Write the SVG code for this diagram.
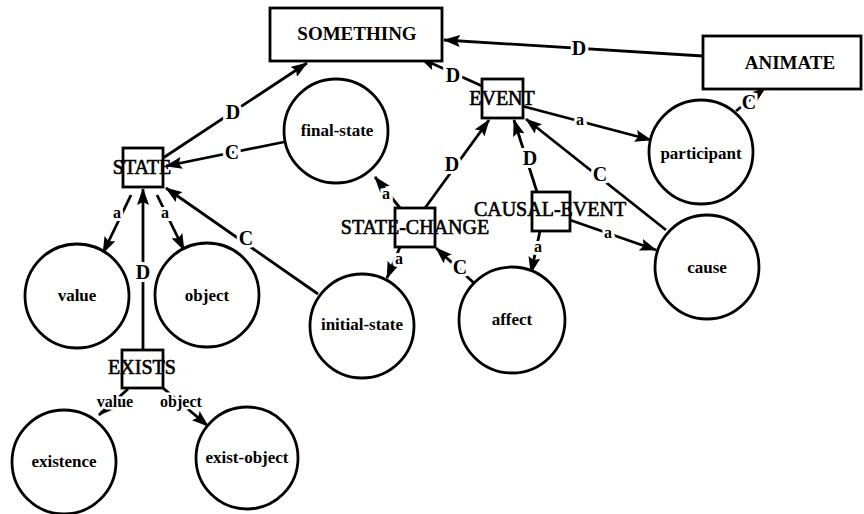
<svg xmlns="http://www.w3.org/2000/svg" width="864" height="514" viewBox="0 0 864 514">
<defs>
<marker id="ah" markerUnits="userSpaceOnUse" markerWidth="17" markerHeight="12" refX="16" refY="6" orient="auto">
<path d="M0,0 L17,6 L0,12 L3,6 z" fill="#000"/>
</marker>
</defs>
<style>
.box{fill:#fff;stroke:#000;stroke-width:2.8}
.circ{fill:#fff;stroke:#000;stroke-width:2.8}
.e{stroke:#000;stroke-width:2.8;fill:none;marker-end:url(#ah)}
text{font-family:"Liberation Serif","Times New Roman",serif;fill:#000;text-anchor:middle;dominant-baseline:central}
.bt{font-size:20px;stroke:#000;stroke-width:0.6}
.bb{font-size:19px;font-weight:bold}
.ct{font-size:17px;font-weight:bold}
.lb{font-size:20px;font-weight:bold;stroke:#fff;stroke-width:6;paint-order:stroke}
.la{font-size:16px;font-weight:bold;stroke:#fff;stroke-width:6;paint-order:stroke}
.lw{font-size:16px;font-weight:bold;stroke:#fff;stroke-width:5;paint-order:stroke}
</style>
<rect width="864" height="514" fill="#fff"/>
<g id="connectors">
<line class="e" x1="163" y1="158" x2="307" y2="63"/>
<line class="e" x1="284" y1="142" x2="166" y2="166"/>
<line class="e" x1="318" y1="294" x2="166" y2="188"/>
<line class="e" x1="131" y1="195" x2="103" y2="253"/>
<line class="e" x1="157" y1="195" x2="184" y2="250"/>
<line class="e" x1="143" y1="350" x2="143" y2="189"/>
<line class="e" x1="128" y1="389" x2="99" y2="415"/>
<line class="e" x1="163" y1="388" x2="208" y2="426"/>
<line class="e" x1="703" y1="56" x2="444" y2="40"/>
<line class="e" x1="736" y1="111" x2="765" y2="88"/>
<line class="e" x1="482" y1="86" x2="420" y2="58"/>
<line class="e" x1="522" y1="106" x2="651" y2="140"/>
<line class="e" x1="425" y1="208" x2="489" y2="120"/>
<line class="e" x1="537" y1="192" x2="514" y2="120"/>
<line class="e" x1="666" y1="230" x2="526" y2="119"/>
<line class="e" x1="570" y1="220" x2="656" y2="250"/>
<line class="e" x1="400" y1="208" x2="375" y2="177"/>
<line class="e" x1="400" y1="247" x2="387" y2="278"/>
<line class="e" x1="475" y1="284" x2="436" y2="248"/>
<line class="e" x1="540" y1="231" x2="531" y2="273"/>
<text class="lb" x="233" y="112">D</text>
<text class="lb" x="232" y="152">C</text>
<text class="lb" x="246" y="238">C</text>
<text class="la" x="117" y="212">a</text>
<text class="la" x="165" y="212">a</text>
<text class="lb" x="143" y="272">D</text>
<text class="lw" x="115" y="401">value</text>
<text class="lw" x="181" y="401">object</text>
<text class="lb" x="579" y="48">D</text>
<text class="lb" x="749" y="102">C</text>
<text class="lb" x="453" y="75">D</text>
<text class="la" x="580" y="119">a</text>
<text class="lb" x="452" y="164">D</text>
<text class="lb" x="530" y="158">D</text>
<text class="lb" x="600" y="174">C</text>
<text class="la" x="608" y="232">a</text>
<text class="la" x="386" y="193">a</text>
<text class="la" x="399" y="258">a</text>
<text class="lb" x="460" y="267">C</text>
<text class="la" x="538" y="246">a</text>
</g>
<g id="SOMETHING"><rect class="box" x="270" y="8" width="172" height="53"/><text class="bb" x="357" y="33">SOMETHING</text></g>
<g id="ANIMATE"><rect class="box" x="703" y="36" width="158" height="53"/><text class="bb" x="790" y="62">ANIMATE</text></g>
<g id="EVENT"><rect class="box" x="482" y="79" width="41" height="39"/><text class="bt" x="502" y="98">EVENT</text></g>
<g id="STATE"><rect class="box" x="123" y="148" width="40" height="39"/><text class="bt" x="142" y="167">STATE</text></g>
<g id="STATE-CHANGE"><rect class="box" x="395" y="208" width="40" height="39"/><text class="bt" x="415" y="227">STATE-CHANGE</text></g>
<g id="CAUSAL-EVENT"><rect class="box" x="532" y="192" width="38" height="39"/><text class="bt" x="550" y="209">CAUSAL-EVENT</text></g>
<g id="EXISTS"><rect class="box" x="122" y="350" width="41" height="38"/><text class="bt" x="142" y="367">EXISTS</text></g>
<g id="final-state"><circle class="circ" cx="336" cy="131" r="52"/><text class="ct" x="337" y="130">final-state</text></g>
<g id="participant"><circle class="circ" cx="701" cy="152" r="52"/><text class="ct" x="701" y="153">participant</text></g>
<g id="cause"><circle class="circ" cx="707" cy="267" r="52"/><text class="ct" x="707" y="267">cause</text></g>
<g id="value"><circle class="circ" cx="77" cy="296" r="52"/><text class="ct" x="77" y="295">value</text></g>
<g id="object"><circle class="circ" cx="207" cy="295" r="52"/><text class="ct" x="207" y="295">object</text></g>
<g id="initial-state"><circle class="circ" cx="362" cy="326" r="52"/><text class="ct" x="362" y="324">initial-state</text></g>
<g id="affect"><circle class="circ" cx="512" cy="320" r="53"/><text class="ct" x="512" y="319">affect</text></g>
<g id="existence"><circle class="circ" cx="64" cy="462" r="52"/><text class="ct" x="64" y="461">existence</text></g>
<g id="exist-object"><circle class="circ" cx="247" cy="458" r="51"/><text class="ct" x="247" y="457">exist-object</text></g>
</svg>
